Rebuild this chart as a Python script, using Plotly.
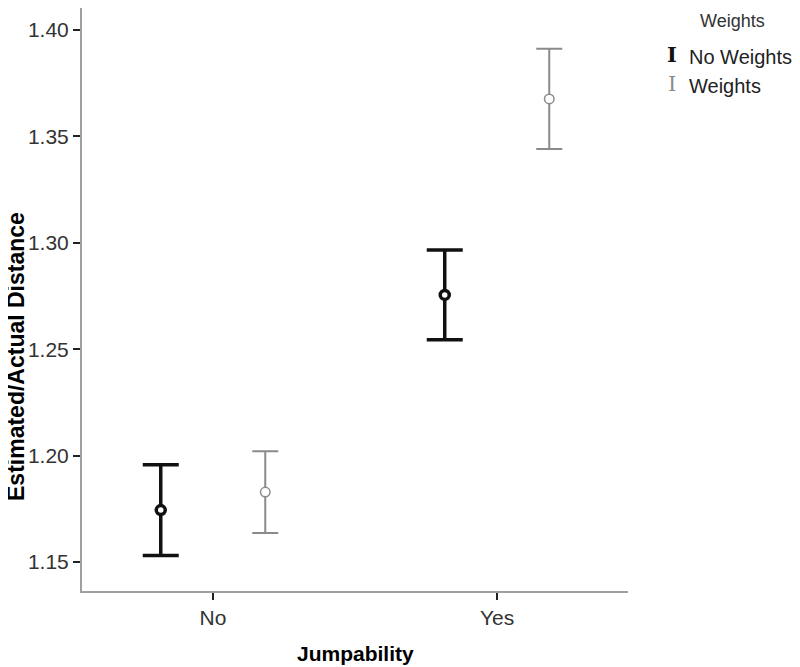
import plotly.graph_objects as go

# error bar chart: mean ratio with 95% CI, grouped by weights condition
categories = ["No", "Yes"]
no_weights_mean = [1.1744, 1.2755]
no_weights_err = [0.0213, 0.0211]
weights_mean = [1.1829, 1.3676]
weights_err = [0.0192, 0.0235]
y_ticks = [1.15, 1.20, 1.25, 1.30, 1.35, 1.40]

FONT = "Arial, Liberation Sans, sans-serif"
BLACK = "#111111"
GRAY = "#8a8a8a"

fig = go.Figure()
fig.add_trace(go.Scatter(
	x=categories, y=no_weights_mean, name="No Weights", mode="markers",
	error_y=dict(type="data", array=no_weights_err, color=BLACK, thickness=3.5, width=18),
	marker=dict(symbol="circle", size=9, color="white", line=dict(color=BLACK, width=3.5)),
	showlegend=False
))
fig.add_trace(go.Scatter(
	x=categories, y=weights_mean, name="Weights", mode="markers",
	error_y=dict(type="data", array=weights_err, color=GRAY, thickness=2, width=13),
	marker=dict(symbol="circle", size=9.5, color="white", line=dict(color=GRAY, width=1.5)),
	showlegend=False
))

# page body has an 8px margin, so margins are shifted to compensate
fig.update_layout(
	width=800, height=667,
	margin=dict(l=74, r=180, t=0, b=84),
	paper_bgcolor="white", plot_bgcolor="white",
	scattermode="group", scattergap=0.264,
	font=dict(family=FONT, size=21, color="#333333"),
)
fig.update_xaxes(
	type="category", range=[-0.4613, 1.4613],
	showline=True, linecolor="#a0a0a0", linewidth=2,
	ticks="outside", ticklen=7, tickwidth=1.5, tickcolor="#222222",
	showgrid=False, zeroline=False,
	tickfont=dict(size=21, color="#333333"),
)
fig.update_yaxes(
	range=[1.1364, 1.4103], tickvals=y_ticks, tickformat=".2f",
	showline=True, linecolor="#a0a0a0", linewidth=2,
	ticks="outside", ticklen=7, tickwidth=1.5, tickcolor="#222222",
	showgrid=False, zeroline=False,
	tickfont=dict(size=21, color="#333333"),
)

# axis titles
fig.add_annotation(text="<b>Estimated/Actual Distance</b>", xref="paper", yref="paper",
	x=-0.1209, y=0.4031, textangle=-90, showarrow=False,
	xanchor="center", yanchor="middle", font=dict(size=23, color="black"))
fig.add_annotation(text="<b>Jumpability</b>", xref="paper", yref="paper",
	x=0.5, y=-0.1064, showarrow=False, xanchor="center", yanchor="middle",
	font=dict(size=21, color="black"))

# legend drawn by hand so the symbols look like error bars
fig.add_annotation(text="Weights", xref="paper", yref="paper", x=1.1905, y=0.9777,
	showarrow=False, xanchor="center", yanchor="middle", font=dict(size=18, color="#333333"))
legend_items = [("No Weights", BLACK, "<b>I</b>", 0.9194), ("Weights", GRAY, "I", 0.8696)]
for label, col, sym, ypos in legend_items:
	fig.add_annotation(text=sym, xref="paper", yref="paper", x=1.0806, y=ypos,
		showarrow=False, xanchor="center", yanchor="middle",
		font=dict(family="DejaVu Serif", size=21, color=col))
	fig.add_annotation(text=label, xref="paper", yref="paper", x=1.1081, y=ypos - 0.0034,
		showarrow=False, xanchor="left", yanchor="middle",
		font=dict(size=20, color="#222222"))

fig.write_html("out.html")
